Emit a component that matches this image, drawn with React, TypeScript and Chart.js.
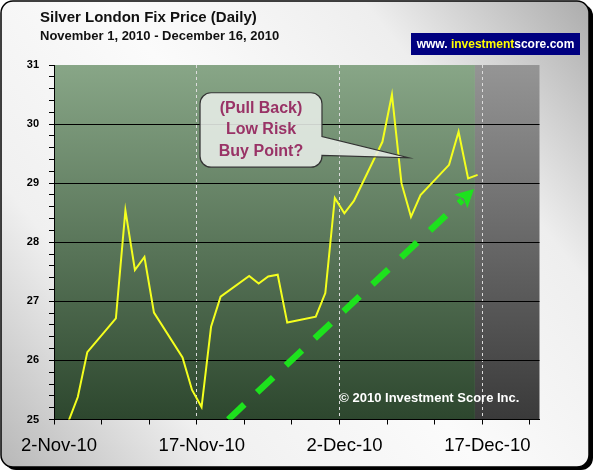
import React, { useEffect, useRef } from "react";
import { Chart, registerables } from "chart.js";

Chart.register(...registerables);

const FONT = "'Liberation Sans', Arial, Helvetica, sans-serif";

// ---- texts ----
const titleText = "Silver London Fix Price (Daily)";
const subtitleText = "November 1, 2010 - December 16, 2010";
const badgeParts = ["www. ", "investment", "score.com"];
const copyrightText = "\u00A9 2010 Investment Score Inc.";
const calloutLines = ["(Pull Back)", "Low Risk", "Buy Point?"];

// ---- data: London silver fix (USD/oz), trading days ----
const fixDates = [
  "2010-11-01", "2010-11-02", "2010-11-03", "2010-11-04", "2010-11-05",
  "2010-11-08", "2010-11-09", "2010-11-10", "2010-11-11", "2010-11-12",
  "2010-11-15", "2010-11-16", "2010-11-17", "2010-11-18", "2010-11-19",
  "2010-11-22", "2010-11-23", "2010-11-24", "2010-11-25", "2010-11-26",
  "2010-11-29", "2010-11-30", "2010-12-01", "2010-12-02", "2010-12-03",
  "2010-12-06", "2010-12-07", "2010-12-08", "2010-12-09", "2010-12-10",
  "2010-12-13", "2010-12-14", "2010-12-15", "2010-12-16",
];
const fixPrices = [
  24.74, 24.9, 24.96, 25.38, 26.14,
  26.71, 28.54, 27.53, 27.75, 26.81,
  26.05, 25.5, 25.21, 26.57, 27.08,
  27.43, 27.3, 27.42, 27.45, 26.64,
  26.74, 27.14, 28.75, 28.49, 28.7,
  29.7, 30.5, 29.0, 28.43, 28.8,
  29.31, 29.87, 29.08, 29.14,
];

// ---- axes ----
const xTickLabelDates = ["2010-11-02", "2010-11-17", "2010-12-02", "2010-12-17"];
const xTickLabels = ["2-Nov-10", "17-Nov-10", "2-Dec-10", "17-Dec-10"];
const xAxisStartDate = "2010-11-02";
const xAxisEndDate = "2010-12-23";
const yMin = 25;
const yMax = 31;

// ---- annotations (data coordinates: day index from 1-Nov, price) ----
const shadeStartDay = 44.72;
const arrowStart = { day: 18.81, value: 25.0 };
const arrowTip = { day: 44.62, value: 28.9 };
const calloutBox = { dayLeft: 15.84, dayRight: 28.65, valueTop: 30.53, valueBottom: 29.27 };
const calloutTail = { baseTop: 29.79, baseBottom: 29.47, tipDay: 37.74, tipValue: 29.43 };
const copyrightPos = { day: 30.47, value: 25.36 };

const BASE = Date.UTC(2010, 10, 1);
function dayIndex(iso: string): number {
  const [y, m, d] = iso.split("-").map(Number);
  return (Date.UTC(y, m - 1, d) - BASE) / 86400000;
}
// tick of a date sits half a day before its data point
const tickPos = (iso: string) => dayIndex(iso) - 0.5;

const X_MIN = tickPos(xAxisStartDate);
const X_MAX = tickPos(xAxisEndDate);
const xTickPositions: number[] = [];
for (let v = X_MIN; v <= X_MAX - 1 + 1e-9; v += 5) xTickPositions.push(v);
const yTickPositions: number[] = [];
for (let i = 0; i <= (yMax - yMin) * 5; i++) yTickPositions.push(Math.round((yMin + i * 0.2) * 10) / 10);

const labeledPositions = xTickLabelDates.map(tickPos);
function xLabelFor(v: number): string {
  const i = labeledPositions.findIndex((p) => Math.abs(p - v) < 1e-6);
  return i >= 0 ? xTickLabels[i] : "";
}
const isInt = (v: number) => Math.abs(v - Math.round(v)) < 1e-6;

function roundRect(ctx: CanvasRenderingContext2D, x: number, y: number, w: number, h: number, r: number) {
  ctx.beginPath();
  ctx.moveTo(x + r, y);
  ctx.lineTo(x + w - r, y);
  ctx.arcTo(x + w, y, x + w, y + r, r);
  ctx.lineTo(x + w, y + h - r);
  ctx.arcTo(x + w, y + h, x + w - r, y + h, r);
  ctx.lineTo(x + r, y + h);
  ctx.arcTo(x, y + h, x, y + h - r, r);
  ctx.lineTo(x, y + r);
  ctx.arcTo(x, y, x + r, y, r);
  ctx.closePath();
}

const decor = {
  id: "decor",
  beforeDraw(chart: any) {
    const { ctx, chartArea: a, scales } = chart;
    const W = chart.width;
    const H = chart.height;
    ctx.save();
    // frame shadow
    roundRect(ctx, 4, 4, 589, 466, 12);
    ctx.fillStyle = "#000";
    ctx.fill();
    // frame
    const g = ctx.createLinearGradient(0, H, W, 0);
    g.addColorStop(0, "#b6b6b6");
    g.addColorStop(0.24, "#f0f0f0");
    g.addColorStop(0.5, "#fbfbfb");
    g.addColorStop(0.76, "#eeeeee");
    g.addColorStop(1, "#aaaaaa");
    roundRect(ctx, 1, 1, 588, 466, 12);
    ctx.fillStyle = g;
    ctx.fill();
    ctx.lineWidth = 1.5;
    ctx.strokeStyle = "#000";
    ctx.stroke();

    // titles
    ctx.fillStyle = "#111";
    ctx.textAlign = "left";
    ctx.textBaseline = "alphabetic";
    ctx.font = `bold 15px ${FONT}`;
    ctx.fillText(titleText, 40, 22);
    ctx.font = `bold 13px ${FONT}`;
    ctx.fillText(subtitleText, 40, 40);

    // badge
    ctx.fillStyle = "#000080";
    ctx.fillRect(411, 33, 169, 22);
    ctx.font = `bold 12px ${FONT}`;
    const widths = badgeParts.map((p) => ctx.measureText(p).width);
    const total = widths.reduce((s, w) => s + w, 0);
    let bx = 495.5 - total / 2;
    ctx.textBaseline = "middle";
    badgeParts.forEach((p, i) => {
      ctx.fillStyle = i === 1 ? "#ffff00" : "#ffffff";
      ctx.fillText(p, bx, 44.5);
      bx += widths[i];
    });

    // plot background
    const xs = scales.x.getPixelForValue(shadeStartDay);
    const gg = ctx.createLinearGradient(0, a.top, 0, a.bottom);
    gg.addColorStop(0, "#88a687");
    gg.addColorStop(1, "#2d472e");
    ctx.fillStyle = gg;
    ctx.fillRect(a.left, a.top, xs - a.left, a.bottom - a.top);
    const gr = ctx.createLinearGradient(0, a.top, 0, a.bottom);
    gr.addColorStop(0, "#959595");
    gr.addColorStop(1, "#3a3a3a");
    ctx.fillStyle = gr;
    ctx.fillRect(xs, a.top, a.right - xs, a.bottom - a.top);
    ctx.restore();
  },
  beforeDatasetsDraw(chart: any) {
    const { ctx, scales } = chart;
    ctx.save();
    ctx.fillStyle = "#ffffff";
    ctx.font = `bold 13px ${FONT}`;
    ctx.textAlign = "left";
    ctx.textBaseline = "middle";
    ctx.fillText(copyrightText, scales.x.getPixelForValue(copyrightPos.day), scales.y.getPixelForValue(copyrightPos.value));
    ctx.restore();
  },
  afterDatasetsDraw(chart: any) {
    const { ctx, chartArea: a, scales } = chart;
    const X = scales.x;
    const Y = scales.y;
    ctx.save();
    ctx.beginPath();
    ctx.rect(a.left, a.top, a.right - a.left, a.bottom - a.top);
    ctx.clip();

    // green dashed arrow
    const sx = X.getPixelForValue(arrowStart.day);
    const sy = Y.getPixelForValue(arrowStart.value);
    const tx = X.getPixelForValue(arrowTip.day);
    const ty = Y.getPixelForValue(arrowTip.value);
    const ang = Math.atan2(ty - sy, tx - sx);
    const cos = Math.cos(ang);
    const sin = Math.sin(ang);
    const headLen = 18;
    const headW = 19;
    const ex = tx - cos * headLen;
    const ey = ty - sin * headLen;
    ctx.strokeStyle = "#1de21d";
    ctx.fillStyle = "#1de21d";
    ctx.lineWidth = 6.5;
    ctx.lineCap = "butt";
    ctx.setLineDash([22, 17.5]);
    ctx.beginPath();
    ctx.moveTo(sx, sy);
    ctx.lineTo(ex + cos * 2, ey + sin * 2);
    ctx.stroke();
    ctx.setLineDash([]);
    ctx.beginPath();
    ctx.moveTo(tx, ty);
    ctx.lineTo(ex - sin * headW / 2, ey + cos * headW / 2);
    ctx.lineTo(ex + cos * 4, ey + sin * 4);
    ctx.lineTo(ex + sin * headW / 2, ey - cos * headW / 2);
    ctx.closePath();
    ctx.fill();

    // callout
    const l = X.getPixelForValue(calloutBox.dayLeft);
    const r = X.getPixelForValue(calloutBox.dayRight);
    const t = Y.getPixelForValue(calloutBox.valueTop);
    const b = Y.getPixelForValue(calloutBox.valueBottom);
    const rad = 11;
    const tyTop = Y.getPixelForValue(calloutTail.baseTop);
    const tyBot = Math.min(Y.getPixelForValue(calloutTail.baseBottom), b - rad);
    const tipX = X.getPixelForValue(calloutTail.tipDay);
    const tipY = Y.getPixelForValue(calloutTail.tipValue);
    ctx.beginPath();
    ctx.moveTo(l + rad, t);
    ctx.lineTo(r - rad, t);
    ctx.arcTo(r, t, r, t + rad, rad);
    ctx.lineTo(r, tyTop);
    ctx.lineTo(tipX, tipY);
    ctx.lineTo(r, tyBot);
    ctx.lineTo(r, b - rad);
    ctx.arcTo(r, b, r - rad, b, rad);
    ctx.lineTo(l + rad, b);
    ctx.arcTo(l, b, l, b - rad, rad);
    ctx.lineTo(l, t + rad);
    ctx.arcTo(l, t, l + rad, t, rad);
    ctx.closePath();
    ctx.fillStyle = "rgba(232,238,232,0.88)";
    ctx.fill();
    ctx.strokeStyle = "#333";
    ctx.lineWidth = 1.2;
    ctx.stroke();

    ctx.fillStyle = "#993366";
    ctx.font = `bold 16px ${FONT}`;
    ctx.textAlign = "center";
    ctx.textBaseline = "middle";
    const cx = (l + r) / 2;
    const cy = (t + b) / 2;
    calloutLines.forEach((line, i) => {
      ctx.fillText(line, cx, cy + (i - 1) * 21.5);
    });
    ctx.restore();
  },
};

export default function App() {
  const ref = useRef<HTMLCanvasElement>(null);
  useEffect(() => {
    const canvas = ref.current;
    if (!canvas) return;
    const points = fixDates.map((d, i) => ({ x: dayIndex(d), y: fixPrices[i] }));
    const chart = new Chart(canvas, {
      type: "line",
      data: {
        datasets: [
          {
            label: "Silver London Fix",
            data: points,
            borderColor: "#f4ff1e",
            borderWidth: 2,
            pointRadius: 0,
            tension: 0,
            fill: false,
          },
        ],
      },
      options: {
        animation: false,
        responsive: false,
        devicePixelRatio: 1,
        events: [],
        layout: { padding: { left: 0, top: 65, right: 55.5, bottom: 0 } },
        plugins: {
          legend: { display: false },
          tooltip: { enabled: false },
          title: { display: false },
        },
        scales: {
          x: {
            type: "linear",
            min: X_MIN,
            max: X_MAX,
            afterBuildTicks: (s: any) => {
              s.ticks = xTickPositions.map((v) => ({ value: v }));
            },
            afterFit: (s: any) => {
              s.height = 52.5;
            },
            ticks: {
              autoSkip: false,
              maxRotation: 0,
              minRotation: 0,
              padding: 10,
              labelOffset: 5,
              color: "#000",
              font: { family: FONT, size: 18.5 },
              callback: (v: any) => xLabelFor(Number(v)),
            },
            grid: {
              color: (c: any) => {
                const v = c.tick ? c.tick.value : NaN;
                return xLabelFor(v) !== "" && c.index > 0 ? "#dcdcdc" : "rgba(0,0,0,0)";
              },
              lineWidth: 1,
              tickColor: "#000",
              tickLength: 5,
            },
            border: { display: true, color: "#000", width: 1, dash: [3, 3] },
          },
          y: {
            min: yMin,
            max: yMax,
            afterBuildTicks: (s: any) => {
              s.ticks = yTickPositions.map((v) => ({ value: v }));
            },
            afterFit: (s: any) => {
              s.width = 54;
            },
            ticks: {
              autoSkip: false,
              padding: 10,
              color: "#000",
              font: { family: FONT, size: 11, weight: "bold" },
              callback: (v: any) => (isInt(Number(v)) ? String(Math.round(Number(v))) : ""),
            },
            grid: {
              color: (c: any) => {
                const v = c.tick ? c.tick.value : NaN;
                return isInt(v) && v > yMin + 0.5 && v < yMax - 0.5 ? "#000" : "rgba(0,0,0,0)";
              },
              lineWidth: 1,
              tickColor: "#000",
              tickLength: 5,
            },
            border: { display: true, color: "#000", width: 1 },
          },
        },
      },
      plugins: [decor],
    } as any);
    return () => chart.destroy();
  }, []);

  return (
    <div style={{ position: "fixed", left: 0, top: 0, width: 595, height: 472, background: "#fff" }}>
      <canvas ref={ref} width={595} height={472} style={{ width: 595, height: 472, display: "block" }} />
    </div>
  );
}
